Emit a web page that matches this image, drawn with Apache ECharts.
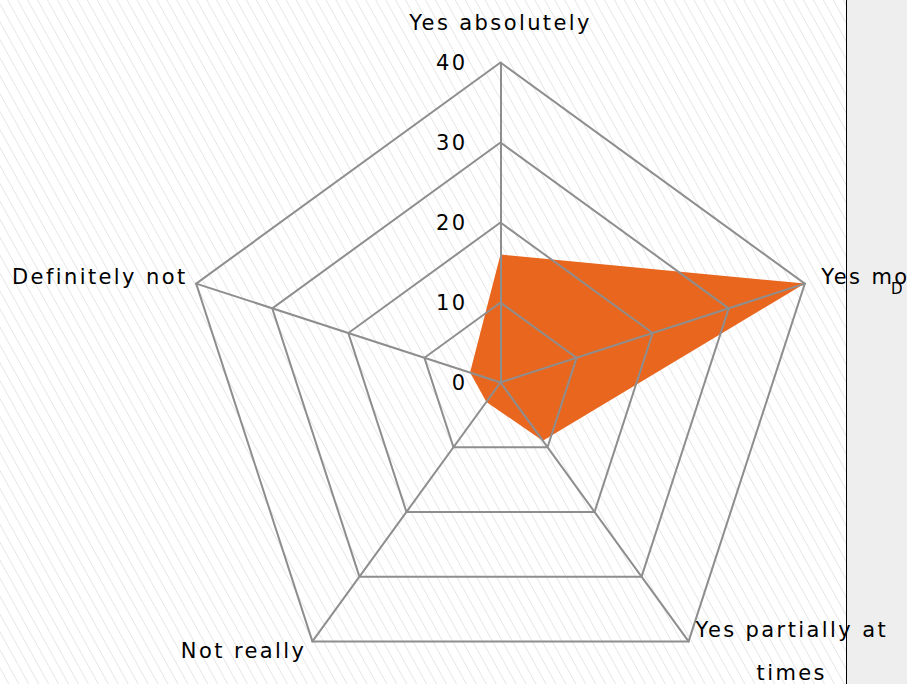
<!DOCTYPE html>
<html><head><meta charset="utf-8">
<script src="https://cdn.jsdelivr.net/npm/echarts@6/dist/echarts.min.js"></script>
<style>
html,body{margin:0;padding:0;background:#fff;}
#main{width:907px;height:684px;background:repeating-linear-gradient(61deg,#ffffff 0px,#ffffff 6.8px,#e7e7e7 7.7px,#ffffff 8.7px);}
#main text{letter-spacing:2.4px;}
</style></head><body><div id="main"></div>
<script>
// Categories in the order ECharts lays them out (counter-clockwise from the top)
const categories = ['Yes absolutely', 'Definitely not', 'Not really', 'Yes partially at\ntimes', 'Yes mostly'];
const seriesValues = [16, 4, 3, 9, 40];
const axisMin = 0;
const axisMax = 40;
const tickValues = [0, 10, 20, 30, 40];
const tickLabels = ['0', '10', '20', '30', '40'];

const FONT = 'DejaVu Sans';
const base = {align: 'center', fontFamily: FONT, fontSize: 21, color: '#000'};
const rich = {
  n0: Object.assign({}, base, {lineHeight: 56}),
  n1: Object.assign({}, base, {padding: [0, 14, 6, 0]}),
  n2: Object.assign({}, base, {padding: [0, 11, 0, 0]}),
  n3: Object.assign({}, base, {lineHeight: 43, padding: [0, 0, 0, 19]}),
  n4: Object.assign({}, base, {padding: [0, 0, 6, 17]})
};
const keyOf = {};
categories.forEach((c, i) => { keyOf[c] = 'n' + i; });

const chart = echarts.init(document.getElementById('main'), null, {renderer: 'svg'});
chart.setOption({
  animation: false,
  backgroundColor: 'transparent',
  graphic: [
    {type: 'rect', z: 0, shape: {x: 847, y: 0, width: 60, height: 684}, style: {fill: '#eeeeee'}},
    {type: 'line', z: 0, shape: {x1: 846.5, y1: 0, x2: 846.5, y2: 684}, style: {stroke: '#000', lineWidth: 1}},
    {type: 'text', z: 1, x: 891, y: 281, style: {text: 'D', fill: '#000', fontSize: 15, fontFamily: FONT}}
  ],
  radar: {
    z: 5,
    center: [500.5, 382.5],
    radius: 320,
    startAngle: 90,
    splitNumber: 4,
    shape: 'polygon',
    nameGap: 12,
    indicator: categories.map(n => ({name: n, min: axisMin, max: axisMax})),
    axisName: {
      color: '#000', fontFamily: FONT, fontSize: 21,
      formatter: function (name) {
        const k = keyOf[name];
        return name.split('\n').map(l => '{' + k + '|' + l + '}').join('\n');
      },
      rich: rich
    },
    splitLine: {lineStyle: {color: '#8e8e8e', width: 2}},
    splitArea: {show: false},
    axisLine: {lineStyle: {color: '#8e8e8e', width: 2}},
    axisTick: {show: false},
    axisLabel: {show: false}
  },
  grid: {left: 500.5, top: 62.5, width: 1, height: 320, containLabel: false},
  xAxis: {type: 'value', show: false},
  yAxis: {
    type: 'value', min: axisMin, max: axisMax, interval: 10,
    axisLine: {show: false}, axisTick: {show: false}, splitLine: {show: false},
    axisLabel: {
      color: '#000', fontFamily: FONT, fontSize: 21, margin: 33,
      formatter: v => tickLabels[tickValues.indexOf(v)]
    }
  },
  series: [{
    type: 'radar',
    z: 2,
    symbol: 'none',
    lineStyle: {width: 0},
    areaStyle: {color: '#E9661F', opacity: 1},
    data: [{value: seriesValues}]
  }]
});
</script></body></html>
